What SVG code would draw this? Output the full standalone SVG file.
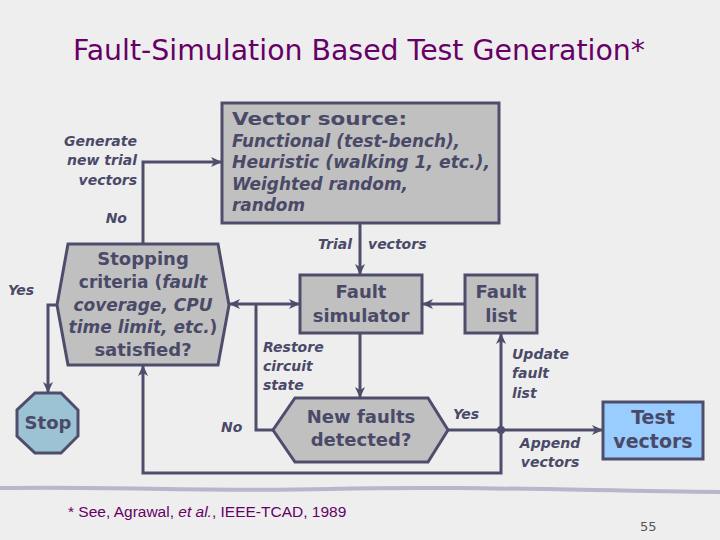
<svg xmlns="http://www.w3.org/2000/svg" width="720" height="540" viewBox="0 0 720 540">
<defs>
<marker id="arr" markerUnits="userSpaceOnUse" markerWidth="11" markerHeight="10" refX="10" refY="5" orient="auto">
<path d="M0,0 L11,5 L0,10 L3,5 z" fill="#4e4e6c"/>
</marker>
<style>
.bg{fill:#eeeeee}
.box{fill:#c0c0c0;stroke:#4e4e6c;stroke-width:3}
.conn{fill:none;stroke:#4e4e6c;stroke-width:3}
.t{font-family:"DejaVu Sans",Verdana,sans-serif;font-weight:bold;fill:#4a4a68}
.i{font-style:italic}
.lbl{font-family:"DejaVu Sans",Verdana,sans-serif;font-weight:bold;font-style:italic;fill:#4a4a68;font-size:14px}
.c{text-anchor:middle}
.r{text-anchor:end}
.purple{font-family:"DejaVu Sans",Tahoma,sans-serif;fill:#660066}
</style>
</defs>
<rect class="bg" x="0" y="0" width="720" height="540"/>
<text class="purple c" x="359" y="60" font-size="28" textLength="572" lengthAdjust="spacingAndGlyphs">Fault-Simulation Based Test Generation*</text>

<g id="connectors">
<path class="conn" d="M143,244 V162 H221" marker-end="url(#arr)"/>
<path class="conn" d="M360,223 V274" marker-end="url(#arr)"/>
<path class="conn" d="M465,304 H423" marker-end="url(#arr)"/>
<path class="conn" d="M360,333 V397" marker-end="url(#arr)"/>
<path class="conn" d="M273,430 H256 V304"/>
<path class="conn" d="M256,304 H299" marker-end="url(#arr)"/>
<path class="conn" d="M256,304 H230" marker-end="url(#arr)"/>
<path class="conn" d="M448,430 H602" marker-end="url(#arr)"/>
<path class="conn" d="M501,430 V334" marker-end="url(#arr)"/>
<path class="conn" d="M501,430 V473 H143 V366" marker-end="url(#arr)"/>
<path class="conn" d="M57,305 H48 V392" marker-end="url(#arr)"/>
<circle cx="501" cy="430" r="4" fill="#4e4e6c"/>
</g>

<g id="vector-source">
<rect class="box" x="222" y="103" width="277" height="120"/>
<text class="t" x="232" y="125" font-size="17" textLength="175" lengthAdjust="spacingAndGlyphs">Vector source:</text>
<text class="t i" x="232" y="147" font-size="17" textLength="228" lengthAdjust="spacingAndGlyphs">Functional (test-bench),</text>
<text class="t i" x="232" y="168" font-size="17" textLength="258" lengthAdjust="spacingAndGlyphs">Heuristic (walking 1, etc.),</text>
<text class="t i" x="232" y="190" font-size="17" textLength="176" lengthAdjust="spacingAndGlyphs">Weighted random,</text>
<text class="t i" x="232" y="211" font-size="17" textLength="73" lengthAdjust="spacingAndGlyphs">random</text>
</g>

<g id="stopping-criteria">
<polygon class="box" points="68,244 218,244 229,305 218,365 68,365 57,305"/>
<text class="t c" x="143" y="265" font-size="18">Stopping</text>
<text class="t c" x="143" y="288" font-size="17">criteria (<tspan class="i">fault</tspan></text>
<text class="t i c" x="143" y="311" font-size="17">coverage, CPU</text>
<text class="t i c" x="143" y="333" font-size="17">time limit, etc.<tspan font-style="normal">)</tspan></text>
<text class="t c" x="143" y="356" font-size="18">satisfied?</text>
</g>

<g id="fault-simulator">
<rect class="box" x="300" y="275" width="122" height="58"/>
<text class="t c" x="361" y="298" font-size="18">Fault</text>
<text class="t c" x="361" y="322" font-size="18">simulator</text>
</g>

<g id="fault-list">
<rect class="box" x="465" y="275" width="72" height="58"/>
<text class="t c" x="501" y="298" font-size="18">Fault</text>
<text class="t c" x="501" y="322" font-size="18">list</text>
</g>

<g id="new-faults">
<polygon class="box" points="295,398 428,398 448,430 428,462 295,462 273,430"/>
<text class="t c" x="361" y="423" font-size="18">New faults</text>
<text class="t c" x="361" y="446" font-size="18">detected?</text>
</g>

<g id="stop">
<polygon points="35,393 61,393 78,410 78,436 61,453 35,453 17,436 17,410" fill="#9cc3d3" stroke="#4e4e6c" stroke-width="3"/>
<text class="t c" x="48" y="429" font-size="18">Stop</text>
</g>

<g id="test-vectors">
<rect x="603" y="402" width="100" height="57" fill="#99ccff" stroke="#4e4e6c" stroke-width="3"/>
<text class="t c" x="653" y="424" font-size="19">Test</text>
<text class="t c" x="653" y="448" font-size="19">vectors</text>
</g>

<g id="labels">
<text class="lbl r" x="137" y="146">Generate</text>
<text class="lbl r" x="137" y="165">new trial</text>
<text class="lbl r" x="137" y="185">vectors</text>
<text class="lbl r" x="127" y="223">No</text>
<text class="lbl" x="8" y="295">Yes</text>
<text class="lbl"><tspan x="318" y="249">Trial</tspan><tspan x="368" y="249">vectors</tspan></text>
<text class="lbl" x="263" y="352">Restore</text>
<text class="lbl" x="263" y="371">circuit</text>
<text class="lbl" x="263" y="390">state</text>
<text class="lbl" x="221" y="432">No</text>
<text class="lbl" x="453" y="419">Yes</text>
<text class="lbl" x="512" y="359">Update</text>
<text class="lbl" x="512" y="378">fault</text>
<text class="lbl" x="512" y="398">list</text>
<text class="lbl c" x="550" y="448">Append</text>
<text class="lbl c" x="550" y="467">vectors</text>
</g>

<path d="M0,488 C120,486 200,492 330,489 C450,486 560,490 720,492" fill="none" stroke="#a8a8c4" stroke-width="4" opacity="0.8"/>
<text x="68" y="517" font-family="Liberation Sans, Arial, sans-serif" font-size="15.5" fill="#660066">* See, Agrawal, <tspan font-style="italic">et al.</tspan>, IEEE-TCAD, 1989</text>
<text x="640" y="531" font-family="DejaVu Sans, sans-serif" font-size="13" fill="#555555">55</text>
</svg>
